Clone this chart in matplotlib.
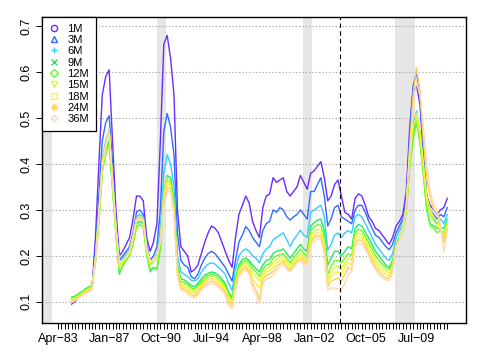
import numpy as np
import pandas as pd
import matplotlib
matplotlib.use("Agg")
import matplotlib.pyplot as plt
from matplotlib.lines import Line2D

plt.rcParams['font.family'] = ['Liberation Sans', 'DejaVu Sans']

# quarterly readings, Apr-1984 .. Oct-2011
dates = pd.date_range('1984-04-01', periods=111, freq='3MS')

m1 = [0.095, 0.100, 0.110, 0.115, 0.120, 0.125, 0.130, 0.240, 0.400, 0.550,
      0.590, 0.605, 0.450, 0.300, 0.200, 0.210, 0.225, 0.240, 0.280, 0.330,
      0.330, 0.320, 0.240, 0.210, 0.230, 0.270, 0.450, 0.660, 0.680, 0.630,
      0.550, 0.300, 0.220, 0.210, 0.200, 0.165, 0.170, 0.180, 0.205, 0.230,
      0.250, 0.265, 0.260, 0.250, 0.230, 0.210, 0.190, 0.175, 0.240, 0.290,
      0.310, 0.330, 0.315, 0.275, 0.255, 0.240, 0.305, 0.330, 0.335, 0.370,
      0.360, 0.365, 0.370, 0.340, 0.330, 0.340, 0.350, 0.375, 0.360, 0.345,
      0.380, 0.385, 0.395, 0.405, 0.370, 0.320, 0.330, 0.355, 0.365, 0.330,
      0.295, 0.290, 0.280, 0.325, 0.335, 0.330, 0.310, 0.285, 0.275, 0.260,
      0.255, 0.245, 0.235, 0.225, 0.240, 0.265, 0.275, 0.290, 0.340, 0.480,
      0.560, 0.570, 0.530, 0.420, 0.330, 0.310, 0.300, 0.290, 0.300, 0.305,
      0.325]
m3 = [0.100, 0.105, 0.110, 0.115, 0.120, 0.125, 0.130, 0.210, 0.330, 0.450,
      0.490, 0.505, 0.400, 0.280, 0.190, 0.200, 0.210, 0.220, 0.250, 0.295,
      0.300, 0.290, 0.225, 0.190, 0.200, 0.220, 0.300, 0.470, 0.510, 0.480,
      0.420, 0.250, 0.190, 0.180, 0.175, 0.155, 0.150, 0.160, 0.180, 0.195,
      0.205, 0.210, 0.205, 0.195, 0.185, 0.175, 0.160, 0.145, 0.190, 0.230,
      0.245, 0.264, 0.255, 0.240, 0.230, 0.220, 0.255, 0.270, 0.275, 0.300,
      0.295, 0.305, 0.300, 0.285, 0.278, 0.285, 0.290, 0.300, 0.290, 0.280,
      0.340, 0.340, 0.355, 0.370, 0.330, 0.265, 0.280, 0.305, 0.310, 0.285,
      0.280, 0.275, 0.270, 0.300, 0.310, 0.310, 0.295, 0.275, 0.260, 0.245,
      0.240, 0.230, 0.220, 0.213, 0.225, 0.250, 0.265, 0.280, 0.320, 0.470,
      0.570, 0.600, 0.550, 0.420, 0.330, 0.300, 0.290, 0.280, 0.290, 0.285,
      0.305]
m6 = [0.105, 0.110, 0.115, 0.120, 0.125, 0.130, 0.135, 0.200, 0.300, 0.410,
      0.450, 0.475, 0.370, 0.260, 0.180, 0.195, 0.205, 0.215, 0.240, 0.285,
      0.290, 0.285, 0.220, 0.180, 0.190, 0.205, 0.260, 0.380, 0.420, 0.400,
      0.350, 0.200, 0.165, 0.160, 0.155, 0.147, 0.145, 0.150, 0.165, 0.175,
      0.182, 0.185, 0.182, 0.175, 0.168, 0.160, 0.140, 0.125, 0.170, 0.200,
      0.210, 0.215, 0.210, 0.200, 0.195, 0.185, 0.205, 0.215, 0.220, 0.235,
      0.240, 0.245, 0.250, 0.235, 0.220, 0.235, 0.245, 0.256, 0.245, 0.240,
      0.295, 0.300, 0.305, 0.310, 0.285, 0.213, 0.225, 0.245, 0.250, 0.240,
      0.250, 0.255, 0.250, 0.285, 0.290, 0.285, 0.270, 0.255, 0.240, 0.225,
      0.215, 0.205, 0.195, 0.190, 0.205, 0.240, 0.255, 0.270, 0.310, 0.420,
      0.490, 0.515, 0.470, 0.400, 0.320, 0.290, 0.280, 0.270, 0.280, 0.270,
      0.290]
m9 = [0.110, 0.112, 0.118, 0.122, 0.128, 0.132, 0.135, 0.190, 0.280, 0.390,
      0.430, 0.450, 0.350, 0.250, 0.160, 0.180, 0.195, 0.205, 0.230, 0.270,
      0.275, 0.270, 0.205, 0.165, 0.175, 0.170, 0.220, 0.340, 0.375, 0.370,
      0.320, 0.180, 0.150, 0.148, 0.142, 0.135, 0.133, 0.140, 0.150, 0.158,
      0.162, 0.165, 0.163, 0.158, 0.150, 0.140, 0.120, 0.110, 0.150, 0.180,
      0.192, 0.195, 0.190, 0.180, 0.172, 0.165, 0.180, 0.190, 0.192, 0.205,
      0.210, 0.212, 0.215, 0.205, 0.195, 0.205, 0.215, 0.225, 0.215, 0.210,
      0.265, 0.272, 0.278, 0.280, 0.255, 0.180, 0.195, 0.210, 0.210, 0.200,
      0.210, 0.220, 0.215, 0.260, 0.268, 0.265, 0.252, 0.238, 0.225, 0.210,
      0.200, 0.190, 0.180, 0.175, 0.190, 0.225, 0.240, 0.260, 0.300, 0.400,
      0.460, 0.500, 0.450, 0.380, 0.300, 0.270, 0.265, 0.260, 0.260, 0.260,
      0.280]
m12 = [0.108, 0.110, 0.116, 0.120, 0.126, 0.130, 0.135, 0.185, 0.270, 0.380,
       0.420, 0.445, 0.345, 0.245, 0.165, 0.178, 0.190, 0.200, 0.225, 0.262,
       0.268, 0.262, 0.200, 0.170, 0.175, 0.172, 0.215, 0.330, 0.365, 0.360,
       0.310, 0.175, 0.145, 0.142, 0.138, 0.130, 0.128, 0.135, 0.145, 0.152,
       0.158, 0.160, 0.158, 0.152, 0.145, 0.135, 0.115, 0.105, 0.145, 0.175,
       0.186, 0.190, 0.185, 0.172, 0.165, 0.155, 0.170, 0.180, 0.182, 0.195,
       0.200, 0.202, 0.205, 0.195, 0.185, 0.195, 0.205, 0.215, 0.205, 0.200,
       0.255, 0.262, 0.268, 0.266, 0.240, 0.160, 0.178, 0.190, 0.190, 0.185,
       0.195, 0.205, 0.200, 0.250, 0.258, 0.255, 0.242, 0.228, 0.215, 0.200,
       0.190, 0.182, 0.175, 0.170, 0.185, 0.222, 0.235, 0.255, 0.295, 0.395,
       0.455, 0.490, 0.445, 0.375, 0.300, 0.265, 0.260, 0.250, 0.255, 0.250,
       0.270]
m15 = [0.105, 0.108, 0.114, 0.118, 0.124, 0.128, 0.132, 0.190, 0.280, 0.390,
       0.430, 0.470, 0.360, 0.255, 0.175, 0.185, 0.195, 0.205, 0.235, 0.275,
       0.280, 0.275, 0.210, 0.180, 0.185, 0.195, 0.230, 0.335, 0.370, 0.355,
       0.305, 0.170, 0.140, 0.137, 0.133, 0.125, 0.122, 0.130, 0.140, 0.147,
       0.153, 0.155, 0.152, 0.146, 0.140, 0.130, 0.110, 0.100, 0.140, 0.170,
       0.180, 0.185, 0.178, 0.162, 0.155, 0.145, 0.162, 0.172, 0.175, 0.185,
       0.192, 0.195, 0.198, 0.188, 0.178, 0.188, 0.198, 0.205, 0.198, 0.192,
       0.245, 0.252, 0.258, 0.256, 0.230, 0.150, 0.165, 0.175, 0.178, 0.170,
       0.185, 0.195, 0.190, 0.243, 0.250, 0.247, 0.235, 0.220, 0.205, 0.190,
       0.180, 0.175, 0.168, 0.163, 0.180, 0.222, 0.235, 0.258, 0.300, 0.410,
       0.480, 0.500, 0.460, 0.390, 0.320, 0.290, 0.275, 0.265, 0.255, 0.245,
       0.270]
m18 = [0.103, 0.106, 0.112, 0.116, 0.122, 0.126, 0.130, 0.195, 0.290, 0.400,
       0.440, 0.475, 0.365, 0.260, 0.180, 0.188, 0.198, 0.210, 0.240, 0.280,
       0.285, 0.280, 0.215, 0.185, 0.190, 0.200, 0.235, 0.330, 0.360, 0.350,
       0.300, 0.165, 0.135, 0.132, 0.128, 0.120, 0.117, 0.125, 0.135, 0.142,
       0.148, 0.150, 0.147, 0.141, 0.135, 0.125, 0.105, 0.095, 0.135, 0.165,
       0.175, 0.180, 0.172, 0.150, 0.140, 0.130, 0.155, 0.165, 0.168, 0.176,
       0.185, 0.188, 0.192, 0.182, 0.172, 0.182, 0.192, 0.200, 0.192, 0.186,
       0.235, 0.245, 0.250, 0.248, 0.220, 0.140, 0.155, 0.162, 0.165, 0.158,
       0.175, 0.185, 0.180, 0.235, 0.242, 0.240, 0.228, 0.212, 0.198, 0.182,
       0.172, 0.166, 0.160, 0.156, 0.175, 0.222, 0.235, 0.260, 0.305, 0.420,
       0.500, 0.510, 0.470, 0.400, 0.330, 0.300, 0.285, 0.275, 0.260, 0.240,
       0.265]
m24 = [0.100, 0.104, 0.110, 0.115, 0.120, 0.125, 0.128, 0.195, 0.295, 0.405,
       0.445, 0.475, 0.370, 0.265, 0.185, 0.190, 0.200, 0.212, 0.245, 0.280,
       0.285, 0.280, 0.218, 0.188, 0.192, 0.202, 0.235, 0.320, 0.350, 0.345,
       0.295, 0.160, 0.130, 0.127, 0.123, 0.115, 0.112, 0.120, 0.130, 0.137,
       0.143, 0.145, 0.142, 0.136, 0.130, 0.120, 0.098, 0.090, 0.130, 0.160,
       0.170, 0.175, 0.166, 0.140, 0.125, 0.105, 0.148, 0.158, 0.160, 0.166,
       0.178, 0.182, 0.188, 0.176, 0.168, 0.178, 0.188, 0.195, 0.188, 0.182,
       0.228, 0.240, 0.244, 0.242, 0.212, 0.133, 0.145, 0.148, 0.152, 0.145,
       0.160, 0.175, 0.170, 0.228, 0.235, 0.233, 0.222, 0.205, 0.190, 0.175,
       0.165, 0.158, 0.152, 0.150, 0.170, 0.220, 0.235, 0.262, 0.310, 0.440,
       0.550, 0.610, 0.560, 0.450, 0.370, 0.330, 0.300, 0.290, 0.265, 0.230,
       0.260]
m36 = [0.098, 0.102, 0.108, 0.113, 0.118, 0.122, 0.126, 0.190, 0.290, 0.400,
       0.440, 0.470, 0.365, 0.262, 0.185, 0.190, 0.198, 0.210, 0.240, 0.278,
       0.282, 0.278, 0.215, 0.188, 0.190, 0.200, 0.230, 0.310, 0.340, 0.340,
       0.290, 0.155, 0.125, 0.122, 0.118, 0.110, 0.108, 0.115, 0.125, 0.132,
       0.138, 0.140, 0.137, 0.131, 0.125, 0.115, 0.092, 0.085, 0.125, 0.155,
       0.165, 0.170, 0.160, 0.130, 0.115, 0.095, 0.140, 0.150, 0.152, 0.158,
       0.170, 0.176, 0.182, 0.170, 0.165, 0.175, 0.185, 0.190, 0.182, 0.178,
       0.220, 0.232, 0.238, 0.236, 0.205, 0.125, 0.130, 0.130, 0.128, 0.125,
       0.140, 0.160, 0.165, 0.220, 0.228, 0.225, 0.215, 0.200, 0.182, 0.170,
       0.158, 0.152, 0.147, 0.147, 0.165, 0.218, 0.235, 0.262, 0.310, 0.430,
       0.520, 0.580, 0.550, 0.480, 0.400, 0.340, 0.310, 0.300, 0.270, 0.210,
       0.255]

labels = ['1M', '3M', '6M', '9M', '12M', '15M', '18M', '24M', '36M']
series = [m1, m3, m6, m9, m12, m15, m18, m24, m36]
colors = ['#6A2BFF', '#2F6BFF', '#33CCFF', '#22E86A', '#66FF22',
          '#D8FF2A', '#FFF030', '#FFD060', '#FFD9B0']
markers = ['o', '^', '+', 'x', 'D', 'v', 's', (6, 2, 0), 'P']

# recession bands and the marked date
recessions = [('1981-07-01', '1982-11-01'), ('1990-07-01', '1991-03-01'),
              ('2001-03-01', '2001-11-01'), ('2007-12-01', '2009-06-01')]
event = '2003-12-01'

fig = plt.figure(figsize=(4.8, 3.6), dpi=100)
ax = fig.add_axes([0.0875, 0.103, 0.8835, 0.85])

for a, b in recessions:
    ax.axvspan(pd.Timestamp(a), pd.Timestamp(b), color='#e6e6e6', lw=0, zorder=0)

yt = [0.1, 0.2, 0.3, 0.4, 0.5, 0.6, 0.7]
for y in yt:
    ax.axhline(y, color='#9a9a9a', lw=0.8, ls=(0, (1, 2)), zorder=1)

for vals, c in zip(series, colors):
    ax.plot(dates, vals, color=c, lw=1.0, zorder=2)

ax.axvline(pd.Timestamp(event), color='black', lw=0.8, ls=(0, (4, 3)), zorder=3)

ax.set_xlim(pd.Timestamp('1982-02-01'), pd.Timestamp('2013-02-15'))
ax.set_ylim(0.054, 0.72)

ax.set_yticks(yt)
ax.set_yticklabels(['0.1', '0.2', '0.3', '0.4', '0.5', '0.6', '0.7'],
                   rotation=90, va='center', fontsize=9)

ticks = pd.date_range('1983-04-01', '2011-10-01', freq='3MS')
tlabels = [d.strftime('%b') + '\u2212' + d.strftime('%y') if i % 15 == 0 else ''
           for i, d in enumerate(ticks)]
ax.set_xticks(ticks)
ax.set_xticklabels(tlabels, fontsize=9)
ax.tick_params(direction='out', length=4, width=0.7, pad=3)

for s in ax.spines.values():
    s.set_linewidth(1.0)

handles = [Line2D([], [], ls='none', marker=mk, color=c, mfc='none',
                  markersize=4.5, mew=1.0) for mk, c in zip(markers, colors)]
leg = ax.legend(handles, labels, loc='upper left', borderaxespad=0,
                fontsize=8, frameon=True, fancybox=False, framealpha=1,
                edgecolor='black', handlelength=1.0, handletextpad=0.7,
                labelspacing=0.12, borderpad=0.6)
leg.get_frame().set_linewidth(0.9)
leg.set_zorder(5)

fig.savefig('out.png', dpi=100)
